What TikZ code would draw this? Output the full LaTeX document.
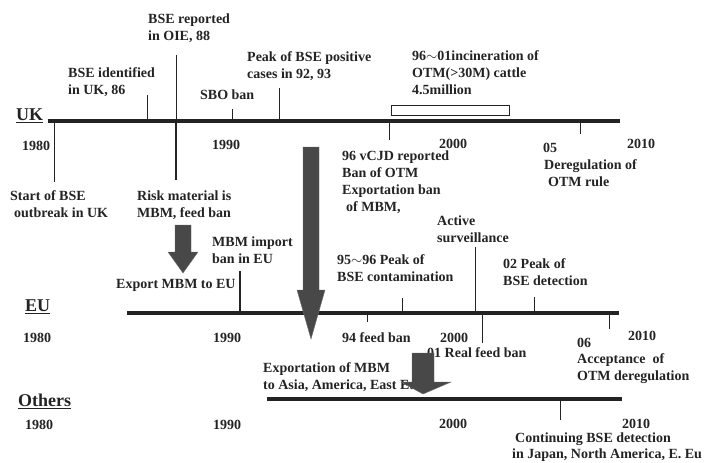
\documentclass[tikz,border=0pt]{standalone}
\usepackage{fontspec}
\setmainfont{Liberation Serif}
\begin{document}
\begin{tikzpicture}[x=1pt,y=-1pt,
  font=\fontsize{14}{17}\selectfont\bfseries,
  lab/.style={anchor=north west,inner sep=0pt,align=left,text=encre},
  pays/.style={anchor=north west,inner sep=0pt,font=\fontsize{18}{20}\selectfont\bfseries,text=encre},
  axe/.style={line width=3.2pt,encre},
  trait/.style={line width=0.8pt,encre},
  bloc/.style={fill=fleche,draw=fleche!80,line width=0.4pt}]
\definecolor{encre}{RGB}{35,35,35}
\definecolor{fleche}{RGB}{72,72,72}
\useasboundingbox (0,0) rectangle (705,463);

% --- UK ---
\node[pays] (uk) at (16,109) {\underline{UK}};
\coordinate (ukA) at (48,121);
\coordinate (ukB) at (620,121);
\draw[axe] (ukA) -- (ukB);
\node[lab] (ukY1) at (22,140.5) {1980};
\node[lab] (ukY2) at (212,139.5) {1990};
\node[lab] (ukY3) at (439,138.5) {2000};
\node[lab] (ukY4) at (627,138.5) {2010};
\node[lab] (oie) at (148,13.5) {BSE reported\\in OIE, 88};
\node[lab] (ident) at (68,67.5) {BSE identified\\in UK, 86};
\node[lab] (peak) at (247,51.5) {Peak of BSE positive\\cases in 92, 93};
\node[lab] (sbo) at (200,89.5) {SBO ban};
\node[lab] (incin) at (412,50.5) {96$\sim$01incineration of\\OTM(>30M) cattle\\4.5million};
\node[lab] (y05) at (543,142.5) {05};
\node[lab] (dereg) at (544,159.5) {Deregulation of\\\hspace*{4pt}OTM rule};
\node[lab] (start) at (10,190.5) {Start of BSE\\\hspace*{4pt}outbreak in UK};
\node[lab] (risk) at (137,190.5) {Risk material is\\MBM, feed ban};
\node[lab] (vcjd) at (342,150.5) {96 vCJD reported\\Ban of OTM\\Exportation ban\\\hspace*{4pt}of MBM,};
\draw[trait] (54,121) -- (54,182);
\draw[trait] (147,95) -- (147,121);
\draw[trait] (176,55) -- (176,121);
\draw[line width=2.6pt,encre] (176,121) -- (176,180);
\draw[trait] (232,109) -- (232,121);
\draw[trait] (279,88) -- (279,121);
\draw[trait] (389,121) -- (389,140);
\draw[trait] (580,121) -- (580,134);
\draw[line width=1pt,encre,fill=white] (391,105) rectangle (509,115);

% --- EU ---
\node[pays] (eu) at (25,300) {\underline{EU}};
\coordinate (euA) at (127,313);
\coordinate (euB) at (619,313);
\draw[axe] (euA) -- (euB);
\node[lab] (euY1) at (23,332.5) {1980};
\node[lab] (euY2) at (213,332.5) {1990};
\node[lab] (euY3) at (440,332.5) {2000};
\node[lab] (euY4) at (628,330.5) {2010};
\node[lab] (imp) at (212,236.5) {MBM import\\ban in EU};
\node[lab] (expeu) at (116,279.5) {Export MBM to EU};
\node[lab] (surv) at (437,215.5) {Active\\surveillance};
\node[lab] (contam) at (337,254.5) {95$\sim$96 Peak of\\BSE contamination};
\node[lab] (detec) at (503,258.5) {02 Peak of\\BSE detection};
\node[lab] (feed94) at (342,332.5) {94 feed ban};
\node[lab] (feed01) at (427,347.5) {01 Real feed ban};
\node[lab] (y06) at (577,337.5) {06};
\node[lab] (accept) at (577,353.5) {Acceptance\ \ of\\OTM deregulation};
\node[lab] (expasia) at (263,362.5) {Exportation of MBM\\to Asia, America, East Eu};
\draw[line width=1.8pt,encre] (240,271) -- (240,313);
\draw[trait] (402,298) -- (402,313);
\draw[trait] (475,247) -- (475,313);
\draw[trait] (534,297) -- (534,313);
\draw[trait] (367,313) -- (367,322);
\draw[trait] (482,313) -- (482,343);
\draw[trait] (609,313) -- (609,329);

% --- Others ---
\node[pays] (oth) at (18,394) {\underline{Others}};
\coordinate (othA) at (267,399);
\coordinate (othB) at (622,399);
\draw[axe] (othA) -- (othB);
\node[lab] (othY1) at (25,419.5) {1980};
\node[lab] (othY2) at (213,419.5) {1990};
\node[lab] (othY3) at (439,418.5) {2000};
\node[lab] (othY4) at (622,418.5) {2010};
\node[lab] (cont) at (515,433) {Continuing BSE detection\\[-1pt]\hspace*{-3pt}in Japan, North America, E. Eu};
\draw[trait] (560,399) -- (560,420);

% --- fleches ---
\fill[bloc] (175,225) -- (191,225) -- (191,252) -- (198,252) -- (183,273)
  -- (168,252) -- (175,252) -- cycle;
\fill[bloc] (303,147) -- (319,147) -- (319,290) -- (325,290) -- (311,339)
  -- (297,290) -- (303,290) -- cycle;
\fill[bloc] (412,353) -- (434,353) -- (434,382) -- (451,382) -- (423,394)
  -- (401,382) -- (412,382) -- cycle;
\end{tikzpicture}
\end{document}
